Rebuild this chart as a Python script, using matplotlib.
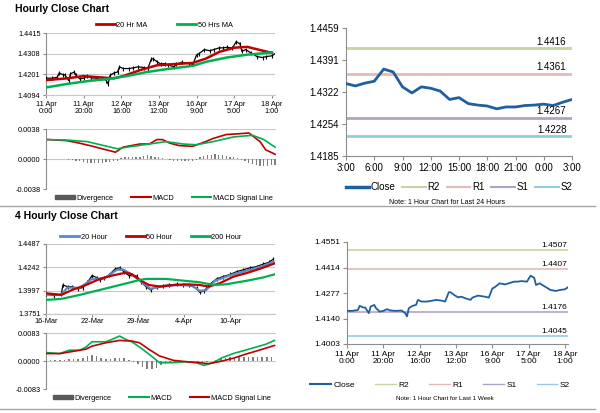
import numpy as np
import matplotlib
matplotlib.use("Agg")
import matplotlib.pyplot as plt
from matplotlib.lines import Line2D
from matplotlib.patches import Patch

plt.rcParams['font.family'] = ['Liberation Sans', 'DejaVu Sans']

RED = "#c00000"
GREEN = "#00b050"
BLUE20 = "#5a8ac6"
CLOSE_BLUE = "#1f5f9f"
GRID = "#c8c8c8"
AXIS = "#8c8c8c"
DIV_C = "#7f7f7f"
R2_C, R1_C, S1_C, S2_C = "#c3d69b", "#e6b9b8", "#b3a2c7", "#93cddd"

# ---- hourly close, last week (hours from 11 Apr 0:00) ----
week_hours = [0, 3, 6, 7, 9, 10, 12, 13, 15, 16, 18, 20, 22, 24, 27, 30, 32, 33, 34, 36,
              38, 39, 41, 44, 46, 49, 52, 54, 56, 57, 59, 61, 63, 65, 68, 69, 72, 76, 78, 80,
              81, 84, 87, 89, 92, 94, 96, 99, 101, 103, 104, 106, 109, 112, 115, 117, 120, 122]
week_close = [1.4181, 1.4181, 1.4186, 1.4208, 1.4199, 1.4199, 1.4169, 1.4204, 1.4213, 1.4195,
              1.4177, 1.4181, 1.4190, 1.4183, 1.4181, 1.4183, 1.4169, 1.4151, 1.4195, 1.4208,
              1.4213, 1.4240, 1.4231, 1.4231, 1.4234, 1.4240, 1.4236, 1.4231, 1.4281, 1.4281,
              1.4266, 1.4254, 1.4257, 1.4249, 1.4240, 1.4252, 1.4263, 1.4257, 1.4252, 1.4302,
              1.4306, 1.4329, 1.4323, 1.4329, 1.4338, 1.4338, 1.4341, 1.4338, 1.4370, 1.4359,
              1.4320, 1.4329, 1.4311, 1.4293, 1.4288, 1.4293, 1.4297, 1.4311]
week_ticks = [0, 20, 40, 60, 80, 100, 120]
week_labels = ["11 Apr\n0:00", "11 Apr\n20:00", "12 Apr\n16:00", "13 Apr\n12:00",
               "16 Apr\n9:00", "17 Apr\n5:00", "18 Apr\n1:00"]

ma20_hours = [0, 11, 20, 29, 36, 41, 50, 59, 68, 78, 85, 92, 100, 107, 114, 120]
ma20_vals = [1.4171, 1.4180, 1.4192, 1.4185, 1.4180, 1.4192, 1.4223, 1.4248, 1.4254, 1.4260,
             1.4283, 1.4317, 1.4339, 1.4343, 1.4326, 1.4312]
ma50_hours = [0, 11, 22, 32, 43, 53, 64, 78, 85, 96, 107, 120]
ma50_vals = [1.4133, 1.4151, 1.4166, 1.4176, 1.4192, 1.4212, 1.4228, 1.4245, 1.4266, 1.4288,
             1.4303, 1.4314]

# ---- hourly MACD ----
macd_h_hours = [1, 11, 18, 25, 32, 37, 41, 50, 55, 59, 62, 66, 71, 78, 85, 89, 96, 103, 108,
                114, 117, 122]
macd_h_vals = [0.00246, 0.00233, 0.0020, 0.0016, 0.00117, 0.00086, 0.0015, 0.0019, 0.0019,
               0.00246, 0.00246, 0.0020, 0.0017, 0.0016, 0.0022, 0.0026, 0.0031, 0.0032,
               0.0033, 0.0022, 0.00117, 0.0006]
sig_h_hours = [1, 11, 22, 29, 38, 46, 55, 64, 73, 80, 89, 100, 110, 116, 122]
sig_h_vals = [0.00246, 0.0024, 0.0022, 0.0018, 0.0013, 0.0016, 0.0019, 0.0022, 0.0019, 0.0018,
              0.0022, 0.0028, 0.0030, 0.00246, 0.0015]
div_h_vals = [0, 0, 0, 0, -0.00005, -0.00005, -0.0001, -0.0001,
              -0.0002, -0.0003, -0.0004, -0.0005, -0.0005, -0.0005, -0.0005, -0.0005, -0.0004,
              -0.0004, -0.0003, -0.0002,
              0.0001, 0.0002, 0.0002, 0.0003, 0.0002, 0.0003, 0.0004, 0.0005, 0.0004, 0.0003,
              0.0002, 0.0001, 0.0,
              -0.0001, -0.0002, -0.0002, -0.0003, -0.0003, -0.0002, -0.0002, -0.0001,
              0.0002, 0.0004, 0.0005, 0.0005, 0.0006, 0.0005, 0.0005, 0.0004, 0.0003, 0.0002,
              0.0001, -0.0001, -0.0003, -0.0005, -0.0006, -0.0008, -0.0009, -0.0009, -0.0009,
              -0.0008, -0.0008]
div_h_hours = np.arange(0, 124, 2)

# ---- last 24 hours close + levels ----
day_close = [1.4340, 1.4335, 1.4341, 1.4345, 1.4371, 1.4365, 1.4333, 1.4320, 1.4333, 1.4330,
             1.4324, 1.4306, 1.4310, 1.4297, 1.4294, 1.4292, 1.4286, 1.4290, 1.4290, 1.4293,
             1.4294, 1.4296, 1.4293, 1.4300, 1.4306]
day_labels = ["3:00", "6:00", "9:00", "12:00", "15:00", "18:00", "21:00", "0:00", "3:00"]
day_levels = {"R2": 1.4416, "R1": 1.4361, "S1": 1.4267, "S2": 1.4228}
week_levels = {"R2": 1.4507, "R1": 1.4407, "S1": 1.4176, "S2": 1.4045}

# ---- 4 hourly close (bar index from 16-Mar) ----
bars4 = [0, 5, 10, 11, 14, 17, 21, 24, 27, 30, 33, 35, 38, 41, 45, 48, 51, 54, 59, 62, 65, 68,
         72, 76, 80, 85, 89, 93, 98, 100, 103, 106, 111, 115, 120, 124, 128, 133, 137, 141, 145, 148]
close4 = [1.3958, 1.3944, 1.3958, 1.4056, 1.4039, 1.4039, 1.4015, 1.4029, 1.4085, 1.4155,
          1.4134, 1.4109, 1.4127, 1.4161, 1.4225, 1.4238, 1.4190, 1.4155, 1.4150, 1.4085,
          1.4039, 1.4004, 1.4039, 1.4049, 1.4056, 1.4063, 1.4056, 1.4056, 1.4021, 1.3979,
          1.3993, 1.4056, 1.4120, 1.4144, 1.4168, 1.4196, 1.4214, 1.4238, 1.4249, 1.4274,
          1.4294, 1.4330]
ma20_4_bars = [0, 10, 14, 22, 30, 38, 46, 50, 56, 62, 68, 75, 85, 95, 100, 104, 110, 120, 130,
               140, 148]
ma20_4_vals = [1.3955, 1.3955, 1.4030, 1.4025, 1.4120, 1.4125, 1.4215, 1.4220, 1.4165, 1.4090,
               1.4015, 1.4040, 1.4055, 1.4050, 1.3995, 1.4000, 1.4100, 1.4160, 1.4205, 1.4250,
               1.4300]
ma50_4_bars = [0, 10, 17, 26, 35, 43, 52, 56, 61, 67, 74, 83, 91, 100, 106, 113, 122, 130, 139, 149]
ma50_4_vals = [1.3969, 1.3952, 1.4004, 1.4056, 1.4120, 1.4155, 1.4186, 1.4169, 1.4109, 1.4056,
               1.4039, 1.4056, 1.4063, 1.4056, 1.4039, 1.4074, 1.4144, 1.4179, 1.4225, 1.4284]
ma200_4_bars = [0, 10, 22, 35, 48, 61, 65, 78, 91, 100, 109, 117, 130, 141, 149]
ma200_4_vals = [1.3899, 1.3910, 1.3952, 1.4004, 1.4056, 1.4109, 1.4120, 1.4120, 1.4099, 1.4085,
                1.4056, 1.4063, 1.4099, 1.4134, 1.4169]
ticks4 = [0, 30, 60, 90, 120]
labels4 = ["16-Mar", "22-Mar", "29-Mar", "4-Apr", "10-Apr"]

# ---- 4 hourly MACD ----
macd4_bars = [0, 9, 15, 22, 26, 30, 39, 43, 48, 52, 56, 63, 70, 74, 83, 91, 98, 103, 109, 115,
              122, 130, 139, 143, 149]
macd4_vals = [0.0025, 0.0022, 0.0032, 0.0032, 0.0041, 0.0057, 0.0057, 0.0064, 0.0074, 0.0064,
              0.0057, 0.0035, 0.0010, -0.0005, -0.0005, -0.0002, -0.0005, -0.0013, -0.0005,
              0.0010, 0.0022, 0.0032, 0.0044, 0.0049, 0.0061]
sig4_bars = [0, 9, 17, 26, 30, 39, 48, 56, 61, 67, 74, 83, 91, 100, 106, 115, 122, 130, 139, 149]
sig4_vals = [0.0022, 0.0022, 0.0028, 0.0035, 0.0044, 0.0054, 0.0061, 0.0059, 0.0054, 0.0035,
             0.0015, 0.0002, -0.0002, -0.0005, -0.0008, 0.0, 0.0008, 0.0020, 0.0032, 0.0046]
div4_vals = [0.0003, 0.0003, 0.0002, 0.0002, 0.0004, 0.0005, 0.0006, 0.0007, 0.0009, 0.0015,
             0.0018, 0.0014, 0.0009, 0.0007, 0.0006, 0.0008, 0.0010, 0.0008, 0.0002, -0.0003,
             -0.0010, -0.0018, -0.0024, -0.0025, -0.0020, -0.0012, -0.0008, -0.0006, -0.0004,
             -0.0002, -0.0001, 0.0, -0.0001, -0.0003, -0.0005, -0.0004, -0.0001, 0.0004, 0.0008,
             0.0010, 0.0011, 0.0012, 0.0012, 0.0011, 0.0012, 0.0012, 0.0011, 0.0012, 0.0011, 0.0013]
div4_bars = np.arange(0, 150, 3)

W, H = 600, 413


def box(x0, y0, x1, y1):
    # pixel box (top-left origin) -> figure fraction rect
    return [x0 / W, 1 - y1 / H, (x1 - x0) / W, (y1 - y0) / H]


def style_left(ax, yticks, fmt, fs=5.3):
    for s in ["top", "right"]:
        ax.spines[s].set_visible(False)
    ax.spines["left"].set_color(AXIS)
    ax.spines["bottom"].set_color(GRID)
    ax.set_yticks(yticks)
    ax.set_yticklabels([fmt % v for v in yticks], fontsize=fs)
    ax.yaxis.grid(True, color=GRID, lw=0.8)
    ax.set_axisbelow(True)
    ax.tick_params(axis="y", length=2, color=AXIS, pad=2)
    ax.set_ylim(yticks[0], yticks[-1])


def style_right(ax, yticks, ylabels, fs=7):
    for s in ["top", "right"]:
        ax.spines[s].set_visible(False)
    ax.spines["left"].set_color(AXIS)
    ax.spines["bottom"].set_color(AXIS)
    ax.set_yticks(yticks)
    ax.set_yticklabels(ylabels, fontsize=fs)
    ax.tick_params(length=3, color=AXIS, pad=2)
    ax.set_ylim(yticks[0], yticks[-1])


def hline(y, x0=0, x1=W):
    fig.add_artist(Line2D([x0 / W, x1 / W], [1 - y / H, 1 - y / H], color="#a6a6a6", lw=1))


fig = plt.figure(figsize=(6, 4.13), dpi=100)

fig.text(15 / W, 1 - 9 / H, "Hourly Close Chart", fontsize=7.5, fontweight="bold", va="center")
fig.text(15 / W, 1 - 216 / H, "4 Hourly Close Chart", fontsize=7.5, fontweight="bold", va="center")
hline(206, 0, 595)
hline(409, 0, 595)

# ---------- top-left hourly price ----------
ax = fig.add_axes(box(46, 33, 275, 95))
ax.plot(week_hours, week_close, color="black", lw=0.9, marker="|", ms=3, mew=0.8, zorder=3)
ax.plot(ma20_hours, ma20_vals, color=RED, lw=1.8, zorder=4)
ax.plot(ma50_hours, ma50_vals, color=GREEN, lw=1.8, zorder=4)
style_left(ax, [1.4094, 1.4201, 1.4308, 1.4415], "%.4f")
ax.set_xlim(0, 121.6)
ax.set_xticks(week_ticks)
ax.set_xticklabels(week_labels, fontsize=5.3, linespacing=1.1)
ax.tick_params(axis="x", length=2, color=AXIS, pad=2)
ax.legend(handles=[Line2D([], [], color=RED, lw=2), Line2D([], [], color=GREEN, lw=2)],
          labels=["20 Hr MA", "50 Hrs MA"], loc="center", bbox_to_anchor=(164 / W, 1 - 25 / H),
          bbox_transform=fig.transFigure, ncol=2, frameon=False, fontsize=5.3,
          handlelength=2.6, handletextpad=0.2, columnspacing=4)

# ---------- top-left hourly MACD ----------
ax = fig.add_axes(box(46, 129, 276, 189))
ax.bar(div_h_hours, div_h_vals, width=0.7, color=DIV_C, zorder=2)
ax.plot(macd_h_hours, macd_h_vals, color=RED, lw=1.2, zorder=3)
ax.plot(sig_h_hours, sig_h_vals, color=GREEN, lw=1.2, zorder=3)
style_left(ax, [-0.0038, 0.0, 0.0038], "%.4f")
ax.spines["bottom"].set_visible(False)
ax.set_xlim(0, 122.5)
ax.set_xticks([])
ax.legend(handles=[Patch(color="#595959"), Line2D([], [], color=RED, lw=1.5),
                   Line2D([], [], color=GREEN, lw=1.5)],
          labels=["Divergence", "MACD", "MACD Signal Line"], loc="center",
          bbox_to_anchor=(164 / W, 1 - 198 / H), bbox_transform=fig.transFigure, ncol=3,
          frameon=False, fontsize=5.3, handlelength=2.6, handleheight=0.5,
          handletextpad=0.2, columnspacing=2.5)

# ---------- top-right last 24 hours ----------
ax = fig.add_axes(box(346, 28, 572, 156))
for name, c in zip(["R2", "R1", "S1", "S2"], [R2_C, R1_C, S1_C, S2_C]):
    ax.axhline(day_levels[name], color=c, lw=2, zorder=2)
    ax.text(23.4, day_levels[name] + 0.0003, "%.4f" % day_levels[name], ha="right",
            va="bottom", fontsize=7, zorder=5)
ax.plot(np.arange(len(day_close)), day_close, color=CLOSE_BLUE, lw=2, zorder=4)
style_right(ax, [1.4185, 1.42535, 1.4322, 1.43905, 1.4459],
            ["1.4185", "1.4254", "1.4322", "1.4391", "1.4459"])
ax.set_xlim(0, 24)
ax.set_xticks(np.arange(0, 25, 3))
ax.set_xticklabels(day_labels, fontsize=7)
ax.legend(handles=[Line2D([], [], color=CLOSE_BLUE, lw=2.5)] +
          [Line2D([], [], color=c, lw=1.5) for c in [R2_C, R1_C, S1_C, S2_C]],
          labels=["Close", "R2", "R1", "S1", "S2"], loc="center",
          bbox_to_anchor=(459 / W, 1 - 187 / H), bbox_transform=fig.transFigure, ncol=5,
          frameon=False, fontsize=7, handlelength=2.4, handletextpad=0.2, columnspacing=0.7)
fig.text(447 / W, 1 - 202 / H, "Note: 1 Hour Chart for Last 24 Hours", ha="center",
         va="center", fontsize=5)

# ---------- bottom-left 4 hourly price ----------
ax = fig.add_axes(box(46, 244, 275, 314))
ax.plot(bars4, close4, color="black", lw=0.9, marker="|", ms=3.5, mew=0.8, zorder=3)
ax.plot(ma20_4_bars, ma20_4_vals, color=BLUE20, lw=1.6, zorder=4)
ax.plot(ma50_4_bars, ma50_4_vals, color=RED, lw=1.6, zorder=4)
ax.plot(ma200_4_bars, ma200_4_vals, color=GREEN, lw=1.6, zorder=4)
style_left(ax, [1.3751, 1.3997, 1.4242, 1.4487], "%.4f")
ax.set_xlim(0, 149)
ax.set_xticks(ticks4)
ax.set_xticklabels(labels4, fontsize=5.3)
ax.tick_params(axis="x", length=2, color=AXIS, pad=1)
ax.legend(handles=[Line2D([], [], color=BLUE20, lw=2), Line2D([], [], color=RED, lw=2),
                   Line2D([], [], color=GREEN, lw=2)],
          labels=["20 Hour", "50 Hour", "200 Hour"], loc="center",
          bbox_to_anchor=(151 / W, 1 - 237 / H), bbox_transform=fig.transFigure, ncol=3,
          frameon=False, fontsize=5.3, handlelength=2.6, handletextpad=0.2, columnspacing=2.5)

# ---------- bottom-left 4 hourly MACD ----------
ax = fig.add_axes(box(46, 333, 276, 389))
ax.bar(div4_bars, div4_vals, width=1.0, color=DIV_C, zorder=2)
ax.plot(macd4_bars, macd4_vals, color=GREEN, lw=1.2, zorder=3)
ax.plot(sig4_bars, sig4_vals, color=RED, lw=1.2, zorder=3)
style_left(ax, [-0.0083, 0.0, 0.0083], "%.4f")
ax.spines["bottom"].set_visible(False)
ax.set_xlim(0, 150)
ax.set_xticks([])
ax.legend(handles=[Patch(color="#595959"), Line2D([], [], color=GREEN, lw=1.5),
                   Line2D([], [], color=RED, lw=1.5)],
          labels=["Divergence", "MACD", "MACD Signal Line"], loc="center",
          bbox_to_anchor=(162 / W, 1 - 398 / H), bbox_transform=fig.transFigure, ncol=3,
          frameon=False, fontsize=5.3, handlelength=2.6, handleheight=0.5,
          handletextpad=0.2, columnspacing=2.5)

# ---------- bottom-right last week ----------
ax = fig.add_axes(box(347, 242, 568, 344))
for name, c in zip(["R2", "R1", "S1", "S2"], [R2_C, R1_C, S1_C, S2_C]):
    ax.axhline(week_levels[name], color=c, lw=1.2, zorder=2)
    ax.text(121, week_levels[name] + 0.0006, "%.4f" % week_levels[name], ha="right",
            va="bottom", fontsize=6, zorder=5)
ax.plot(week_hours, week_close, color=CLOSE_BLUE, lw=1.3, zorder=4)
style_right(ax, [1.4003, 1.4140, 1.4277, 1.4414, 1.4551],
            ["1.4003", "1.4140", "1.4277", "1.4414", "1.4551"], fs=6)
ax.set_xlim(0, 121.6)
ax.set_xticks(week_ticks)
ax.set_xticklabels(week_labels, fontsize=6, linespacing=1.0)
ax.legend(handles=[Line2D([], [], color=CLOSE_BLUE, lw=1.5)] +
          [Line2D([], [], color=c, lw=1) for c in [R2_C, R1_C, S1_C, S2_C]],
          labels=["Close", "R2", "R1", "S1", "S2"], loc="center",
          bbox_to_anchor=(440 / W, 1 - 385 / H), bbox_transform=fig.transFigure, ncol=5,
          frameon=False, fontsize=6, handlelength=2.5, handletextpad=0.3, columnspacing=2.4)
fig.text(445 / W, 1 - 398 / H, "Note: 1 Hour Chart for Last 1 Week", ha="center",
         va="center", fontsize=4.5)

fig.savefig("out.png", dpi=100)
